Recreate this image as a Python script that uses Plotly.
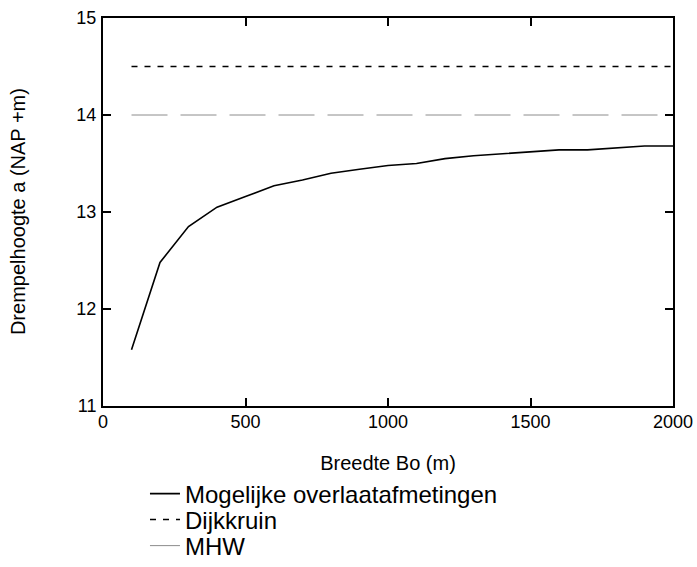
import plotly.graph_objects as go

breedte = [100, 200, 300, 400, 500, 600, 700, 800, 900, 1000, 1100, 1200, 1300, 1400, 1500, 1600, 1700, 1800, 1900, 2000]
drempel = [11.58, 12.48, 12.85, 13.05, 13.16, 13.27, 13.33, 13.40, 13.44, 13.48, 13.50, 13.55, 13.58, 13.60, 13.62, 13.64, 13.64, 13.66, 13.68, 13.68]
dijk_x = [100, 2000]
dijk_y = [14.5, 14.5]
mhw_x = [100, 2000]
mhw_y = [14.0, 14.0]
x_ticks = [0, 500, 1000, 1500, 2000]
y_ticks = [11, 12, 13, 14, 15]
y_title = "Drempelhoogte a (NAP +m)"
x_title = "Breedte Bo (m)"

fig = go.Figure()
fig.add_trace(go.Scatter(x=breedte, y=drempel, mode="lines", name="Mogelijke overlaatafmetingen",
                         line=dict(color="black", width=1.6), legend="legend"))
fig.add_trace(go.Scatter(x=dijk_x, y=dijk_y, mode="lines", name="Dijkkruin",
                         line=dict(color="black", width=1.5, dash="6px,7px"), legend="legend2"))
fig.add_trace(go.Scatter(x=mhw_x, y=mhw_y, mode="lines", name="MHW",
                         line=dict(color="#8c8c8c", width=1, dash="36px,13px"), legend="legend3"))

font = "Liberation Sans, Arial, sans-serif"
leg_common = dict(xref="container", yref="container", x=0.208, xanchor="left", yanchor="top",
                  font=dict(size=24, family=font), bgcolor="rgba(0,0,0,0)", itemwidth=30)
fig.update_layout(
    width=697, height=567,
    margin=dict(l=103, r=24, t=18, b=161, autoexpand=False),
    paper_bgcolor="white", plot_bgcolor="white",
    font=dict(family=font, color="black"),
    showlegend=True,
    legend=dict(y=0.1684, **leg_common),
    legend2=dict(y=0.1226, **leg_common),
    legend3=dict(y=0.0767, **leg_common),
    xaxis=dict(range=[0, 2000], tickvals=x_ticks, ticks="inside", ticklen=8, tickwidth=1.5,
               tickcolor="black", showline=True, linecolor="black", linewidth=2, mirror="ticks",
               showgrid=False, zeroline=False, tickfont=dict(size=18), automargin=True,
               ticklabelstandoff=-2,
               title=dict(text=x_title, font=dict(size=20), standoff=25)),
    yaxis=dict(range=[11, 15], tickvals=y_ticks, ticks="inside", ticklen=8, tickwidth=1.5,
               tickcolor="black", showline=True, linecolor="black", linewidth=2, mirror="ticks",
               showgrid=False, zeroline=False, tickfont=dict(size=18), automargin=False,
               ticklabelstandoff=1),
    annotations=[dict(text=y_title, textangle=-90, xref="paper", yref="paper",
                      x=-0.149, y=0.5, xanchor="center", yanchor="middle", showarrow=False,
                      font=dict(size=20, family=font))],
)
fig.write_html("out.html")
